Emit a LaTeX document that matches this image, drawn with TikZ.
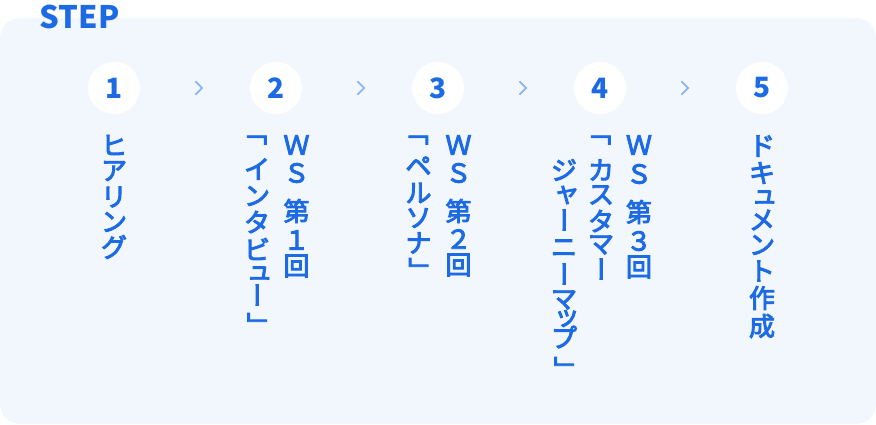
\documentclass[tikz,border=0pt]{standalone}
\usepackage{fontspec}
\usepackage{graphicx}
\newfontfamily\jpfont{Noto Sans CJK JP}
\newfontfamily\jpmed{Noto Sans CJK JP}[FakeBold=3.5]
\usetikzlibrary{positioning}
\definecolor{stepblue}{HTML}{1D6AE5}
\definecolor{chevblue}{HTML}{8DB3F2}
\definecolor{panelblue}{HTML}{F2F7FE}

\tikzset{
  stepcircle/.style={circle,fill=white,minimum size=52pt,inner sep=0pt,text=stepblue,font=\jpfont\bfseries\fontsize{28}{28}\selectfont},
  vch/.style={inner sep=0pt,text=stepblue,font=\jpmed\fontsize{26}{26}\selectfont},
  chev/.style={chevblue,line width=1.8pt,line cap=round,line join=round}
}
% one column of upright text: name, x, char/y list
\newcommand\vcol[3]{\foreach \c/\y [count=\k] in {#3} \node[vch] (#1-\k) at (#2,\y) {\c};}
\newcommand\vbar{\rotatebox{-90}{ー}\hspace*{8.3pt}}
\newcommand\vopen{{\fontsize{27}{27}\selectfont ﹁}\hspace*{6.8pt}}
\newcommand\vclose{\hspace*{6.8pt}{\fontsize{27}{27}\selectfont ﹂}}
\newcommand\sk[1]{\hspace*{5.5pt}#1}

\begin{document}
\begin{tikzpicture}[x=1pt,y=-1pt]
\useasboundingbox (0,0) rectangle (876,424);

%panel
\fill[panelblue,rounded corners=20pt] (0,18) rectangle (876,424);

%label
\node[anchor=base west,inner sep=0pt,text=stepblue,font=\jpfont\bfseries\fontsize{31}{31}\selectfont] (steplabel) at (39.5,28.3) {STEP};

%circles
\foreach \i in {1,...,5}
  \node[stepcircle] (n\i) at ({114+162*(\i-1)},88) {\i};

%chevrons
\foreach \i [count=\j from 2] in {1,...,4}{
  \path (n\i) -- (n\j) coordinate[midway] (m\i);
  \draw[chev] ([shift={(0.8,-6.3)}]m\i) -- ++(6.4,6.3) -- ++(-6.4,6.3);
}

%step 1
\vcol{s1a}{114}{ヒ/145,ア/171,リ/197,ン/222,グ/247}

%step 2
\vcol{s2a}{296.5}{Ｗ/145,Ｓ/173,第/211,１/240,回/266}
\vcol{s2b}{257}{\vopen/140,イ/169,ン/196,タ/222,ビ/249,\sk{ュ}/273,\vbar/295,\vclose/324.5}

%step 3
\vcol{s3a}{458.5}{Ｗ/145,Ｓ/173,第/211,２/239,回/265}
\vcol{s3b}{418.5}{\vopen/140,ペ/166,ル/193,ソ/218,ナ/243,\vclose/269.5}

%step 4
\vcol{s4a}{639}{Ｗ/145,Ｓ/174,第/212,３/241,回/267}
\vcol{s4b}{601}{\vopen/140,カ/170,ス/195,タ/221,マ/245,\vbar/269}
\vcol{s4c}{564}{ジ/170,\sk{ャ}/195,\vbar/220,ニ/248,\vbar/274,マ/300,\sk{ッ}/318.5,プ/337,\vclose/368.5}

%step 5
\vcol{s5a}{762}{ド/146,キ/173,\sk{ュ}/197,メ/220,ン/245,ト/271,作/298,成/326}
\end{tikzpicture}
\end{document}
